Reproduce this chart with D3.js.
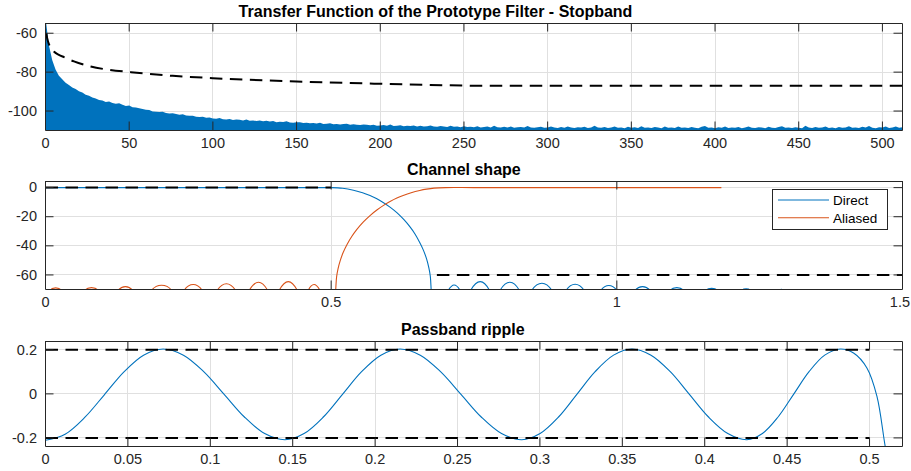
<!DOCTYPE html>
<html>
<head>
<meta charset="utf-8">
<script src="https://cdn.jsdelivr.net/npm/d3@7"></script>
<style>
  body { margin: 0; background: #fff; }
  svg { display: block; }
</style>
</head>
<body>
<svg id="chart" width="911" height="471"></svg>
<script>
// ---------- Panel 1: prototype filter stopband ----------
// magnitude (dB) sampled every 2 frequency bins, bins 0..512
const stopbandStep = 2;
const stopbandDb = [
  -52, -66.0, -73.8, -78.7, -81.9, -83.7, -85.5, -86.6, -87.9, -88.7, -89.8, -90.5, -91.6, -92.2, -93.1, -93.5,
  -94.3, -94.6, -95.3, -95.1, -95.8, -96.2, -96.0, -96.8, -97.4, -97.1, -98.1, -98.2, -98.5, -98.9, -99.3, -99.4,
  -100.2, -100.3, -100.5, -100.4, -101.0, -101.2, -101.1, -101.5, -101.9, -101.7, -102.3, -102.4, -102.4, -102.9, -103.0, -102.9,
  -103.5, -103.3, -103.8, -103.9, -103.6, -104.2, -104.3, -104.1, -104.6, -104.4, -104.5, -104.9, -104.3, -105.0, -104.8, -105.1,
  -104.9, -105.2, -105.0, -105.4, -105.1, -105.7, -105.5, -105.6, -105.2, -105.9, -106.0, -105.7, -105.8, -106.2, -106.0, -106.3,
  -106.1, -106.4, -106.0, -106.6, -106.5, -106.3, -106.8, -106.6, -106.9, -106.7, -106.5, -107.1, -106.8, -107.0, -107.2, -106.9,
  -107.1, -107.3, -107.0, -107.5, -107.4, -107.2, -107.6, -106.9, -107.7, -107.5, -107.3, -107.8, -107.6, -107.7, -107.4, -107.9,
  -107.6, -107.9, -107.8, -107.4, -108.0, -108.1, -107.7, -107.9, -108.2, -107.5, -108.1, -108.0, -108.3, -107.8, -108.2, -108.1,
  -108.3, -107.8, -108.4, -108.2, -108.0, -108.5, -107.6, -108.3, -108.4, -108.1, -108.5, -107.9, -108.6, -108.3, -108.2, -108.5,
  -107.7, -108.4, -108.6, -108.3, -108.1, -108.6, -108.5, -107.9, -108.4, -108.7, -108.2, -108.6, -108.0, -108.5, -108.7, -108.3,
  -108.5, -108.1, -108.7, -108.4, -107.6, -108.5, -108.6, -108.2, -108.7, -108.4, -108.0, -108.6, -108.5, -108.8, -108.1, -108.6,
  -108.3, -108.7, -107.8, -108.6, -108.4, -108.7, -108.2, -108.5, -108.8, -108.0, -108.6, -108.4, -108.7, -107.9, -108.6, -108.5,
  -108.7, -108.2, -108.6, -108.8, -108.1, -107.7, -108.6, -108.5, -108.8, -108.3, -108.6, -108.0, -108.7, -108.4, -108.6, -108.2,
  -108.8, -108.4, -107.9, -108.6, -108.7, -108.3, -108.5, -108.8, -108.1, -108.6, -108.7, -108.2, -107.8, -108.6, -108.4, -108.7,
  -108.3, -108.6, -108.8, -107.6, -108.5, -108.7, -108.2, -108.6, -108.4, -107.9, -108.7, -108.5, -108.8, -108.2, -108.6, -108.4,
  -107.8, -108.6, -108.4, -108.7, -108.1, -108.5, -107.7, -108.6, -108.8, -108.3, -108.5, -108.0, -108.7, -108.4, -107.9, -108.6,
  -108.3
];
// stopband attenuation requirement (dashed)
const boundBin = [0.5, 1, 2, 3, 5, 8, 11, 17, 27, 37, 51, 76, 100, 150, 200, 250, 256, 512];
const boundDb  = [-60, -62.5, -65.5, -67.3, -69.4, -71.1, -72.3, -74.5, -77.1, -78.7, -80, -81.9, -83.1, -84.8, -86, -86.9, -87, -87];
const stopXTicks = [0, 50, 100, 150, 200, 250, 300, 350, 400, 450, 500];
const stopYTicks = [-100, -80, -60];

// ---------- Panel 2: channel shape ----------
const directFreq = [0, 0.3, 0.45, 0.49, 0.5, 0.52, 0.539, 0.555, 0.568, 0.58, 0.591, 0.603, 0.615, 0.627,
  0.638, 0.647, 0.655, 0.661, 0.667, 0.671, 0.6735, 0.675, 0.6765, 0.69,
  0.705, 0.715, 0.7255, 0.735,
  0.7443, 0.761, 0.777, 0.786,
  0.7956, 0.813, 0.8294, 0.840,
  0.8511, 0.869, 0.8862, 0.899,
  0.9112, 0.927, 0.9428, 0.957,
  0.972, 0.986, 1.0, 1.016,
  1.032, 1.045, 1.058, 1.075,
  1.0934, 1.105, 1.1167, 1.136,
  1.156, 1.166, 1.176, 1.197,
  1.219, 1.2265, 1.2335, 1.26,
  1.2855, 1.288, 1.2905, 1.31];
const directDb = [0, 0, 0, 0, 0, -0.45, -1.76, -3.5, -5.5, -7.7, -10.2, -13.4, -17.2, -21.9,
  -27.0, -32.0, -37.7, -42.6, -49.0, -55.2, -60.8, -70, -80, -90,
  -70.5, -66.9, -70.5, -90,
  -70.5, -64.6, -70.5, -90,
  -70.5, -65.0, -70.5, -90,
  -70.5, -65.7, -70.5, -90,
  -70.5, -66.4, -70.5, -90,
  -70.5, -67.3, -70.5, -90,
  -70.5, -68.0, -70.5, -90,
  -70.5, -68.7, -70.5, -90,
  -70.5, -69.2, -70.5, -90,
  -70.5, -69.6, -70.5, -90,
  -70.5, -69.85, -70.5, -90];
const aliasedFreq = [0, 0.0076, 0.018, 0.028, 0.048,
  0.0688, 0.0806, 0.0921, 0.11,
  0.1271, 0.14, 0.1524, 0.169,
  0.1856, 0.203, 0.2207, 0.232,
  0.2427, 0.2585, 0.2743, 0.288,
  0.3005, 0.3166, 0.3327, 0.345,
  0.3566, 0.3727, 0.3888, 0.399,
  0.4091, 0.425, 0.4406, 0.451,
  0.4599, 0.470, 0.4804, 0.494,
  0.5065, 0.508, 0.5095, 0.512, 0.516, 0.521, 0.528, 0.536, 0.545, 0.556, 0.568, 0.58, 0.591,
  0.603, 0.615, 0.626, 0.64, 0.655, 0.667, 0.68, 0.70, 0.75, 0.9, 1.183];
const aliasedDb = [-90, -70.5, -68.9, -70.5, -90,
  -70.5, -68.7, -70.5, -90,
  -70.5, -68.0, -70.5, -90,
  -70.5, -67.1, -70.5, -90,
  -70.5, -66.6, -70.5, -90,
  -70.5, -66.0, -70.5, -90,
  -70.5, -65.0, -70.5, -90,
  -70.5, -64.6, -70.5, -90,
  -70.5, -66.6, -70.5, -90,
  -80, -70, -61.3, -55.8, -50, -44.6, -38.9, -33.6, -28.7, -23.7, -19.2, -15.4, -12.4,
  -9.6, -7.2, -5.4, -3.5, -1.95, -1.04, -0.38, 0, 0, 0, 0];
// passband (0 dB up to 0.5) and stopband (-60 dB from 0.685) masks
const passMaskFreq = [0, 0.5];
const passMaskDb = [0, 0];
const stopMaskFreq = [0.685, 1.5];
const stopMaskDb = [-60, -60];
const shapeXTicks = [0, 0.5, 1, 1.5];
const shapeYTicks = [-60, -40, -20, 0];
const legendLabels = ["Direct", "Aliased"];

// ---------- Panel 3: passband ripple ----------
const rippleFreq = [
  0, 0.0119, 0.0238, 0.0357, 0.0476, 0.0595,
  0.0714, 0.0837, 0.0960, 0.1084, 0.1207, 0.1330,
  0.1453, 0.1569, 0.1686, 0.1802, 0.1918, 0.2035,
  0.2151, 0.2274, 0.2397, 0.2521, 0.2644, 0.2767,
  0.2890, 0.3001, 0.3113, 0.3224, 0.3335, 0.3447,
  0.3558, 0.3674, 0.3791, 0.3907, 0.4023, 0.4140,
  0.4256, 0.4350, 0.4445, 0.4539, 0.4633, 0.4728,
  0.4822, 0.4903, 0.4984, 0.5045, 0.5095, 0.512];
const rippleDb = [
  -0.211, -0.183, -0.107, -0.004, 0.100, 0.176,
  0.204, 0.176, 0.101, -0.002, -0.105, -0.180,
  -0.208, -0.180, -0.105, -0.002, 0.101, 0.176,
  0.204, 0.176, 0.101, -0.002, -0.105, -0.180,
  -0.208, -0.180, -0.105, -0.002, 0.101, 0.176,
  0.204, 0.176, 0.101, -0.002, -0.105, -0.180,
  -0.208, -0.180, -0.105, -0.002, 0.101, 0.176,
  0.204, 0.186, 0.118, -0.011, -0.238, -0.33];
const rippleLimitFreq = [0, 0.5];
const rippleUpper = [0.2, 0.2];
const rippleLower = [-0.2, -0.2];
const rippleXTicks = [0, 0.05, 0.1, 0.15, 0.2, 0.25, 0.3, 0.35, 0.4, 0.45, 0.5];
const rippleXLabels = ["0", "0.05", "0.1", "0.15", "0.2", "0.25", "0.3", "0.35", "0.4", "0.45", "0.5"];
const rippleYTicks = [-0.2, 0, 0.2];
const rippleYLabels = ["-0.2", "0", "0.2"];

// ---------- drawing ----------
const FONT = '"Liberation Sans", Arial, Helvetica, sans-serif';
const INK = "#262626";
const GRID = "#e0e0e0";
const BLUE = "#0072bd";
const ORANGE = "#d95319";
const TICK = 8.5;
const TICK_FONT = 14.5;
const WIDTH = 911;

const svg = d3.select("#chart");
svg.append("rect").attr("width", 911).attr("height", 471).attr("fill", "#fff");

function makePanel(id, box, xDomain, yDomain, xTicks, yTicks) {
  const x = d3.scaleLinear().domain(xDomain).range([box.left, box.right]);
  const y = d3.scaleLinear().domain(yDomain).range([box.bottom, box.top]);
  const g = svg.append("g");
  const grid = g.append("g").attr("stroke", GRID).attr("stroke-width", 1).attr("shape-rendering", "crispEdges");
  grid.selectAll("line.gx").data(xTicks).join("line")
    .attr("x1", d => x(d) + 0.5).attr("x2", d => x(d) + 0.5)
    .attr("y1", box.top).attr("y2", box.bottom);
  grid.selectAll("line.gy").data(yTicks).join("line")
    .attr("y1", d => y(d) + 0.5).attr("y2", d => y(d) + 0.5)
    .attr("x1", box.left).attr("x2", box.right);
  svg.append("clipPath").attr("id", id).append("rect")
    .attr("x", box.left + 0.5).attr("y", box.top + 0.5)
    .attr("width", box.right - box.left).attr("height", box.bottom - box.top);
  const plot = g.append("g").attr("clip-path", `url(#${id})`);
  return { x, y, g, plot, box, xTicks, yTicks };
}

function finishPanel(p, xFmt, yFmt, title, titleX, titleY) {
  const { x, y, g, box, xTicks, yTicks } = p;
  const ax = g.append("g");
  ax.append("g").attr("transform", `translate(0,${box.bottom})`)
    .call(d3.axisBottom(x).tickValues(xTicks).tickFormat(xFmt).tickSize(-TICK).tickSizeOuter(0).tickPadding(7.5));
  ax.append("g").attr("transform", `translate(0,${box.top})`)
    .call(d3.axisTop(x).tickValues(xTicks).tickFormat("").tickSize(-TICK).tickSizeOuter(0));
  ax.append("g").attr("transform", `translate(${box.left},0)`)
    .call(d3.axisLeft(y).tickValues(yTicks).tickFormat(yFmt).tickSize(-TICK).tickSizeOuter(0).tickPadding(8));
  ax.append("g").attr("transform", `translate(${box.right},0)`)
    .call(d3.axisRight(y).tickValues(yTicks).tickFormat("").tickSize(-TICK).tickSizeOuter(0));
  ax.selectAll("g").attr("font-family", FONT).attr("font-size", TICK_FONT);
  ax.selectAll("path.domain").attr("stroke", INK).attr("stroke-width", 1);
  ax.selectAll(".tick line").attr("stroke", INK);
  ax.selectAll(".tick text").attr("fill", INK).each(function () {
    // keep the last label inside the figure
    const r = this.getBoundingClientRect();
    if (r.right > WIDTH - 1) d3.select(this).attr("dx", (WIDTH - 1 - r.right).toFixed(1));
  });
  g.append("text")
    .attr("x", titleX).attr("y", titleY)
    .attr("text-anchor", "middle")
    .attr("font-family", FONT).attr("font-weight", "bold").attr("font-size", 16)
    .attr("fill", "#000")
    .text(title);
}

function dashed(sel) {
  return sel.attr("fill", "none").attr("stroke", "#000").attr("stroke-width", 2).attr("stroke-dasharray", "12.5,7.5");
}

// Panel 1
{
  const p = makePanel("clip-stop", { left: 45, right: 902, top: 23, bottom: 130 }, [0, 512], [-110, -55], stopXTicks, stopYTicks);
  const area = d3.area()
    .x((d, i) => p.x(i * stopbandStep) + 0.5)
    .y0(p.box.bottom + 1)
    .y1(d => p.y(d) + 0.5);
  p.plot.append("path").datum(stopbandDb).attr("d", area).attr("fill", BLUE);
  const line = d3.line().curve(d3.curveMonotoneX)
    .x(d => p.x(d[0]) + 0.5).y(d => p.y(d[1]) + 0.5);
  dashed(p.plot.append("path").datum(d3.zip(boundBin, boundDb)).attr("d", line));
  finishPanel(p, d => String(d), d => String(d), "Transfer Function of the Prototype Filter - Stopband", 435.5, 16.7);
}

// Panel 2
{
  const p = makePanel("clip-shape", { left: 45, right: 902, top: 181, bottom: 289 }, [0, 1.5], [-70, 4.2], shapeXTicks, shapeYTicks);
  const line = d3.line().curve(d3.curveCatmullRom.alpha(0.5))
    .x(d => p.x(d[0]) + 0.5).y(d => p.y(d[1]) + 0.5);
  p.plot.append("path").datum(d3.zip(directFreq, directDb)).attr("d", line)
    .attr("fill", "none").attr("stroke", BLUE).attr("stroke-width", 1.1);
  p.plot.append("path").datum(d3.zip(aliasedFreq, aliasedDb)).attr("d", line)
    .attr("fill", "none").attr("stroke", ORANGE).attr("stroke-width", 1.1);
  const straight = d3.line().x(d => p.x(d[0]) + 0.5).y(d => p.y(d[1]) + 0.5);
  dashed(p.plot.append("path").datum(d3.zip(passMaskFreq, passMaskDb)).attr("d", straight));
  dashed(p.plot.append("path").datum(d3.zip(stopMaskFreq, stopMaskDb)).attr("d", straight));
  finishPanel(p, d => String(d), d => String(d), "Channel shape", 463.8, 175);

  // legend
  const lg = p.g.append("g");
  lg.append("rect").attr("x", 772.5).attr("y", 189.5).attr("width", 115).attr("height", 40)
    .attr("fill", "#fff").attr("stroke", INK).attr("stroke-width", 1);
  const colors = [BLUE, ORANGE];
  legendLabels.forEach((lab, i) => {
    const cy = 200 + i * 17.7;
    lg.append("line").attr("x1", 778).attr("x2", 829).attr("y1", cy).attr("y2", cy)
      .attr("stroke", colors[i]).attr("stroke-width", 1.1);
    lg.append("text").attr("x", 833).attr("y", cy + 5)
      .attr("font-family", FONT).attr("font-size", 13.5).attr("fill", "#000").text(lab);
  });
}

// Panel 3
{
  const p = makePanel("clip-ripple", { left: 45, right: 902, top: 341, bottom: 446 }, [0, 0.52], [-0.239, 0.238], rippleXTicks, rippleYTicks);
  const line = d3.line().curve(d3.curveCatmullRom.alpha(0.5))
    .x(d => p.x(d[0]) + 0.5).y(d => p.y(d[1]) + 0.5);
  p.plot.append("path").datum(d3.zip(rippleFreq, rippleDb)).attr("d", line)
    .attr("fill", "none").attr("stroke", BLUE).attr("stroke-width", 1.1);
  const straight = d3.line().x(d => p.x(d[0]) + 0.5).y(d => p.y(d[1]) + 0.5);
  dashed(p.plot.append("path").datum(d3.zip(rippleLimitFreq, rippleUpper)).attr("d", straight));
  dashed(p.plot.append("path").datum(d3.zip(rippleLimitFreq, rippleLower)).attr("d", straight));
  finishPanel(p, (d, i) => rippleXLabels[i], (d, i) => rippleYLabels[i], "Passband ripple", 462.8, 335);
}
</script>
</body>
</html>
